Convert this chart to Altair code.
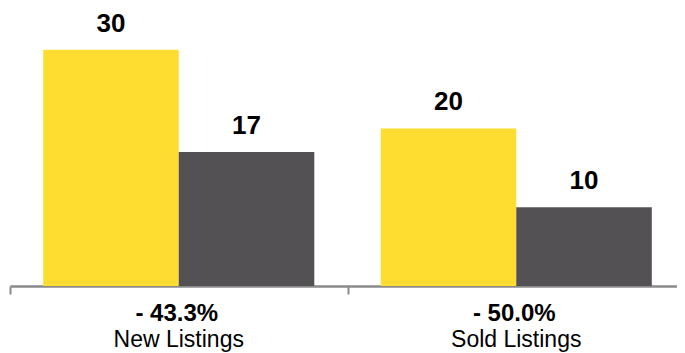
import altair as alt
import pandas as pd

categories = ["New Listings", "Sold Listings"]
series = ["Prior Period", "Current Period"]
prior_values = [30, 20]
current_values = [17, 10]
changes = ["- 43.3%", "- 50.0%"]
colors = ["#FEDD30", "#545154"]

rows = []
for c, p, q in zip(categories, prior_values, current_values):
    rows.append({"category": c, "series": series[0], "value": p})
    rows.append({"category": c, "series": series[1], "value": q})
df = pd.DataFrame(rows)
cdf = pd.DataFrame({"category": categories, "change": changes})

FONT = "Liberation Sans"

x = alt.X("category:N", sort=categories, title=None,
          scale=alt.Scale(paddingInner=0, paddingOuter=0, range=[0, 675]),
          axis=alt.Axis(labels=False, tickBand="extent", domainColor="#8a8a8a",
                        domainWidth=2.5, tickColor="#8a8a8a", tickWidth=2,
                        tickSize=8, grid=False))
xo = alt.XOffset("series:N", sort=series,
                 scale=alt.Scale(paddingOuter=0.245, paddingInner=0))
y = alt.Y("value:Q", scale=alt.Scale(domain=[0, 35.3]), axis=None)

bars = alt.Chart(df).mark_bar().encode(
    x=x, xOffset=xo, y=y,
    color=alt.Color("series:N", sort=series,
                    scale=alt.Scale(domain=series, range=colors), legend=None),
)

vals = alt.Chart(df).mark_text(
    font=FONT, fontSize=26, fontWeight="bold", color="#000000",
    baseline="alphabetic", dy=-18
).encode(x=x, xOffset=xo, y=y, text="value:Q")

pct = alt.Chart(cdf).mark_text(
    font=FONT, fontSize=24, fontWeight="bold", color="#000000",
    baseline="alphabetic", dx=-2
).encode(x=x, y=alt.value(313), text="change:N")

names = alt.Chart(cdf).mark_text(
    font=FONT, fontSize=23, color="#000000", baseline="alphabetic"
).encode(x=x, y=alt.value(339), text="category:N")

chart = alt.layer(bars, vals, pct, names).properties(
    width=667, height=278,
    autosize=alt.AutoSizeParams(type="none"),
    padding={"left": 2, "top": 0, "right": 0, "bottom": 66},
).configure_view(stroke=None)

chart.save("out.html", embed_options={"renderer": "svg", "actions": False})
